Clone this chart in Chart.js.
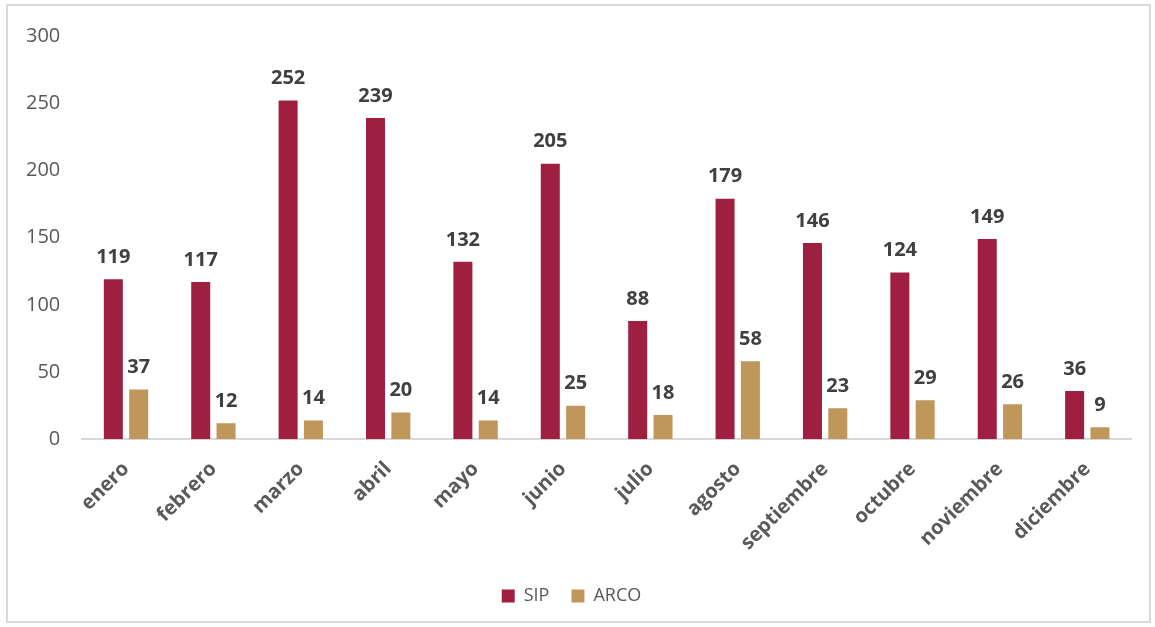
<!DOCTYPE html>
<html>
<head>
<meta charset="utf-8">
<script src="https://cdn.jsdelivr.net/npm/chart.js@4"></script>
<style>
  html, body { margin: 0; padding: 0; background: #fff; }
  #frame {
    position: absolute; left: 6px; top: 4px;
    width: 1141px; height: 615px;
    border: 2px solid #d9d9d9;
  }
  #wrap { position: absolute; left: 0; top: 0; width: 1141px; height: 615px; }
</style>
</head>
<body>
<div id="frame"><div id="wrap"><canvas id="myChart"></canvas></div></div>
<script>
let meses = ['enero', 'febrero', 'marzo', 'abril', 'mayo', 'junio', 'julio', 'agosto', 'septiembre', 'octubre', 'noviembre', 'diciembre'];
let sip = [119, 117, 252, 239, 132, 205, 88, 179, 146, 124, 149, 36];
let arco = [37, 12, 14, 20, 14, 25, 18, 58, 23, 29, 26, 9];
let yTicks = [0, 50, 100, 150, 200, 250, 300];

const fuente = "'Open Sans', 'Noto Sans', sans-serif";

// etiquetas encima de las barras
const etiquetas = {
  id: 'etiquetas',
  afterDatasetsDraw(chart) {
    let ctx = chart.ctx;
    ctx.save();
    ctx.font = 'bold 20px ' + fuente;
    ctx.fillStyle = '#404040';
    ctx.textAlign = 'center';
    ctx.textBaseline = 'bottom';
    chart.data.datasets.forEach(function(ds, i) {
      chart.getDatasetMeta(i).data.forEach(function(bar, j) {
        ctx.fillText(ds.data[j], bar.x, bar.y - 12);
      });
    });
    ctx.restore();
  }
};

let ctx = document.getElementById('myChart').getContext('2d');
let chart = new Chart(ctx, {
  type: 'bar',
  data: {
    labels: meses,
    datasets: [
      { label: 'SIP', data: sip, backgroundColor: '#9e1f40', categoryPercentage: 0.58, barPercentage: 0.75 },
      { label: 'ARCO', data: arco, backgroundColor: '#c0975a', categoryPercentage: 0.58, barPercentage: 0.75 }
    ]
  },
  options: {
    responsive: true,
    maintainAspectRatio: false,
    animation: false,
    layout: { padding: { left: 4, right: 18, top: 30, bottom: 6 } },
    plugins: {
      legend: {
        position: 'bottom',
        labels: {
          font: { family: fuente, size: 18 },
          color: '#595959',
          boxWidth: 13,
          boxHeight: 13,
          padding: 22
        }
      },
      tooltip: { enabled: false }
    },
    scales: {
      x: {
        grid: { display: false },
        border: { color: '#d9d9d9', width: 2 },
        ticks: {
          color: '#595959',
          font: { family: fuente, size: 20, weight: 'bold' },
          maxRotation: 45,
          minRotation: 45,
          padding: 10
        }
      },
      y: {
        min: 0,
        max: 300,
        afterBuildTicks(axis) { axis.ticks = yTicks.map(v => ({ value: v })); },
        grid: { display: false },
        border: { display: false },
        ticks: {
          color: '#595959',
          font: { family: fuente, size: 20 },
          padding: 14
        }
      }
    }
  },
  plugins: [etiquetas]
});
</script>
</body>
</html>
